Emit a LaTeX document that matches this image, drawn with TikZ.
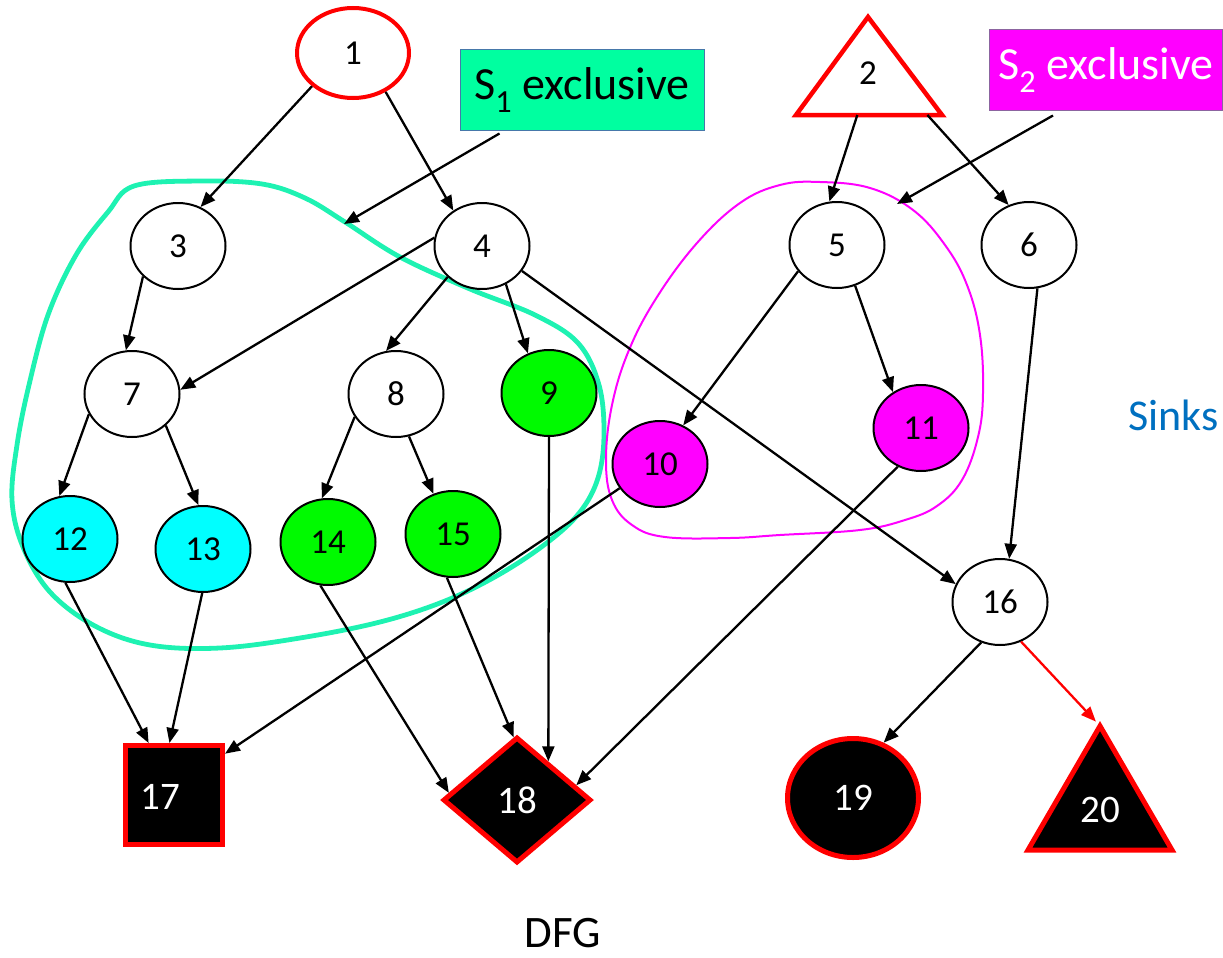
\documentclass[tikz,border=0pt]{standalone}
\usepackage{fontspec}
\setmainfont{Carlito}
\usetikzlibrary{shapes.geometric,arrows.meta,calc}

\definecolor{sred}{RGB}{255,0,0}
\definecolor{ngreen}{RGB}{0,250,0}
\definecolor{ncyan}{RGB}{0,255,255}
\definecolor{nmag}{RGB}{255,0,255}
\definecolor{mintfill}{RGB}{0,255,160}
\definecolor{mintline}{RGB}{30,242,178}
\definecolor{boxedge}{RGB}{70,120,170}
\definecolor{magedge}{RGB}{140,100,160}
\definecolor{sinkblue}{RGB}{0,112,192}

\begin{document}
\begin{tikzpicture}[x=1pt,y=-1pt,
  opnode/.style={ellipse, draw=black, line width=2pt, fill=white,
    minimum width=95pt, minimum height=86pt, inner sep=0pt,
    font=\fontsize{35}{40}\selectfont},
  sinkfill/.style={fill=black, draw=sred, line width=5pt, inner sep=0pt,
    text=white, font=\fontsize{39}{44}\selectfont},
  conn/.style={line width=2.3pt, -{Triangle[length=15pt,width=12pt]}},
  redconn/.style={conn, draw=sred, fill=sred},
  tagbox/.style={rectangle, minimum width=244pt, minimum height=80pt,
    inner sep=0pt, line width=1pt, font=\fontsize{46}{50}\selectfont}
]
\useasboundingbox (0,0) rectangle (1223,958);

% group outlines
\draw[mintline, line width=4.8pt] plot[smooth cycle, tension=0.6] coordinates {
  (134,186) (200,181) (262,184) (305,198) (345,222) (400,257) (470,289)
  (535,315) (578,343) (599,385) (604,435) (598,478) (580,512) (548,542)
  (500,574) (445,601) (380,622) (300,638) (220,648) (150,645) (95,626)
  (50,592) (23,547) (12,500) (17,445) (29,385) (48,315) (76,255) (108,212)};
\draw[nmag, line width=2pt] plot[smooth cycle, tension=0.65] coordinates {
  (820,182) (870,188) (913,210) (945,245) (967,285) (980,335) (983,393)
  (978,437) (962,480) (937,506) (905,520) (860,530) (780,535) (730,538)
  (665,537) (632,525) (612,500) (606,460) (612,405) (629,350) (657,297)
  (697,243) (740,203) (780,185)};

% sources
\node[opnode, draw=sred, line width=4pt, minimum width=112pt, minimum height=90pt] (n1) at (353,53) {1};
\coordinate (t2top) at (868,17);
\coordinate (t2l) at (796,115);
\coordinate (t2r) at (942,115);
\draw[sred, line width=4.5pt, fill=white] (t2top) -- (t2l) -- (t2r) -- cycle;
\node[font=\fontsize{35}{40}\selectfont] (n2) at (868,73) {2};

% operation nodes
\node[opnode] (n3) at (178,246) {3};
\node[opnode] (n4) at (482,246) {4};
\node[opnode] (n5) at (837,245) {5};
\node[opnode] (n6) at (1029,245) {6};
\node[opnode] (n7) at (132,394) {7};
\node[opnode] (n8) at (396,394) {8};
\node[opnode, fill=ngreen] (n9) at (549,393) {9};
\node[opnode, fill=nmag] (n10) at (660,464) {10};
\node[opnode, fill=nmag] (n11) at (921,428) {11};
\node[opnode, fill=ncyan] (n12) at (70,539) {12};
\node[opnode, fill=ncyan] (n13) at (203,549) {13};
\node[opnode, fill=ngreen] (n14) at (328,542) {14};
\node[opnode, fill=ngreen] (n15) at (453,534) {15};
\node[opnode] (n16) at (1000,602) {16};

% sinks
\node[sinkfill, rectangle, minimum width=97pt, minimum height=99pt] (n17) at (174,795) {};
\node[text=white, font=\fontsize{39}{44}\selectfont] (l17) at (160,797) {17};
\node[sinkfill, diamond, minimum width=148pt, minimum height=126pt] (n18) at (517,800) {18};
\node[sinkfill, ellipse, minimum width=131pt, minimum height=119pt] (n19) at (853,798) {19};
\coordinate (t20top) at (1100,726);
\coordinate (t20l) at (1028,850);
\coordinate (t20r) at (1172,850);
\draw[sred, line width=5pt, fill=black] (t20top) -- (t20l) -- (t20r) -- cycle;
\node[text=white, font=\fontsize{39}{44}\selectfont] (n20) at (1100,810) {20};

% exclusivity tags
\node[tagbox, fill=mintfill, draw=boxedge] (s1) at (582,90) {S\textsubscript{1} exclusive};
\node[tagbox, fill=nmag, draw=magedge, text=white, minimum width=233pt] (s2) at (1106,70) {S\textsubscript{2} exclusive};
\coordinate (s1tip) at (344,224);
\coordinate (s2tip) at (897,204);
\draw[conn] ($(s1.south west)+(40,3)$) -- (s1tip);
\draw[conn] ($(s2.south west)+(64,5)$) -- (s2tip);

% data-flow edges
\draw[conn] (n1.219) -- (n3.60);
\draw[conn] (n1.310) -- (n4.129);
\draw[conn] ($(t2l)!0.42!(t2r)$) -- (n5.100);
\draw[conn] ($(t2l)!0.9!(t2r)$) -- (n6.117);
\draw[conn] (n3.221) -- (n7.98);
\draw[conn] (n4.170) -- (n7.5);
\draw[conn] (n4.222) -- (n8.103);
\draw[conn] (n4.302) -- (n9.118);
\draw[conn] (n4.328) -- (n16.158);
\draw[conn] (n5.214) -- (n10.59);
\draw[conn] (n5.294) -- (n11.128);
\draw[conn] (n6.281) -- (n16.78);
\draw[conn] (n7.205) -- (n12.104);
\draw[conn] (n7.317) -- (n13.96);
\draw[conn] (n8.209) -- (n14.98);
\draw[conn] (n8.287) -- (n15.116);
\draw[conn] (n9.south) -- (n18.51);
\draw[conn] (n10.211) -- (n17.39);
\draw[conn] (n11.239) -- (n18.14);
\draw[conn] (n12.264) -- (n17.116);
\draw[conn] (n13.269) -- (n17.95);
\draw[conn] (n14.260) -- (n18.174);
\draw[conn] (n15.262) -- (n18.93);
\draw[conn] (n16.245) -- (n19.61);
\draw[redconn, shorten >=6pt] (n16.298) -- (t20top);

% captions
\node[anchor=west, text=sinkblue, font=\fontsize{44}{48}\selectfont] (sinks) at (1125,415) {Sinks};
\node[inner sep=0pt, font=\fontsize{45}{50}\selectfont] (dfg) at (563,933) {DFG};
\end{tikzpicture}
\end{document}
